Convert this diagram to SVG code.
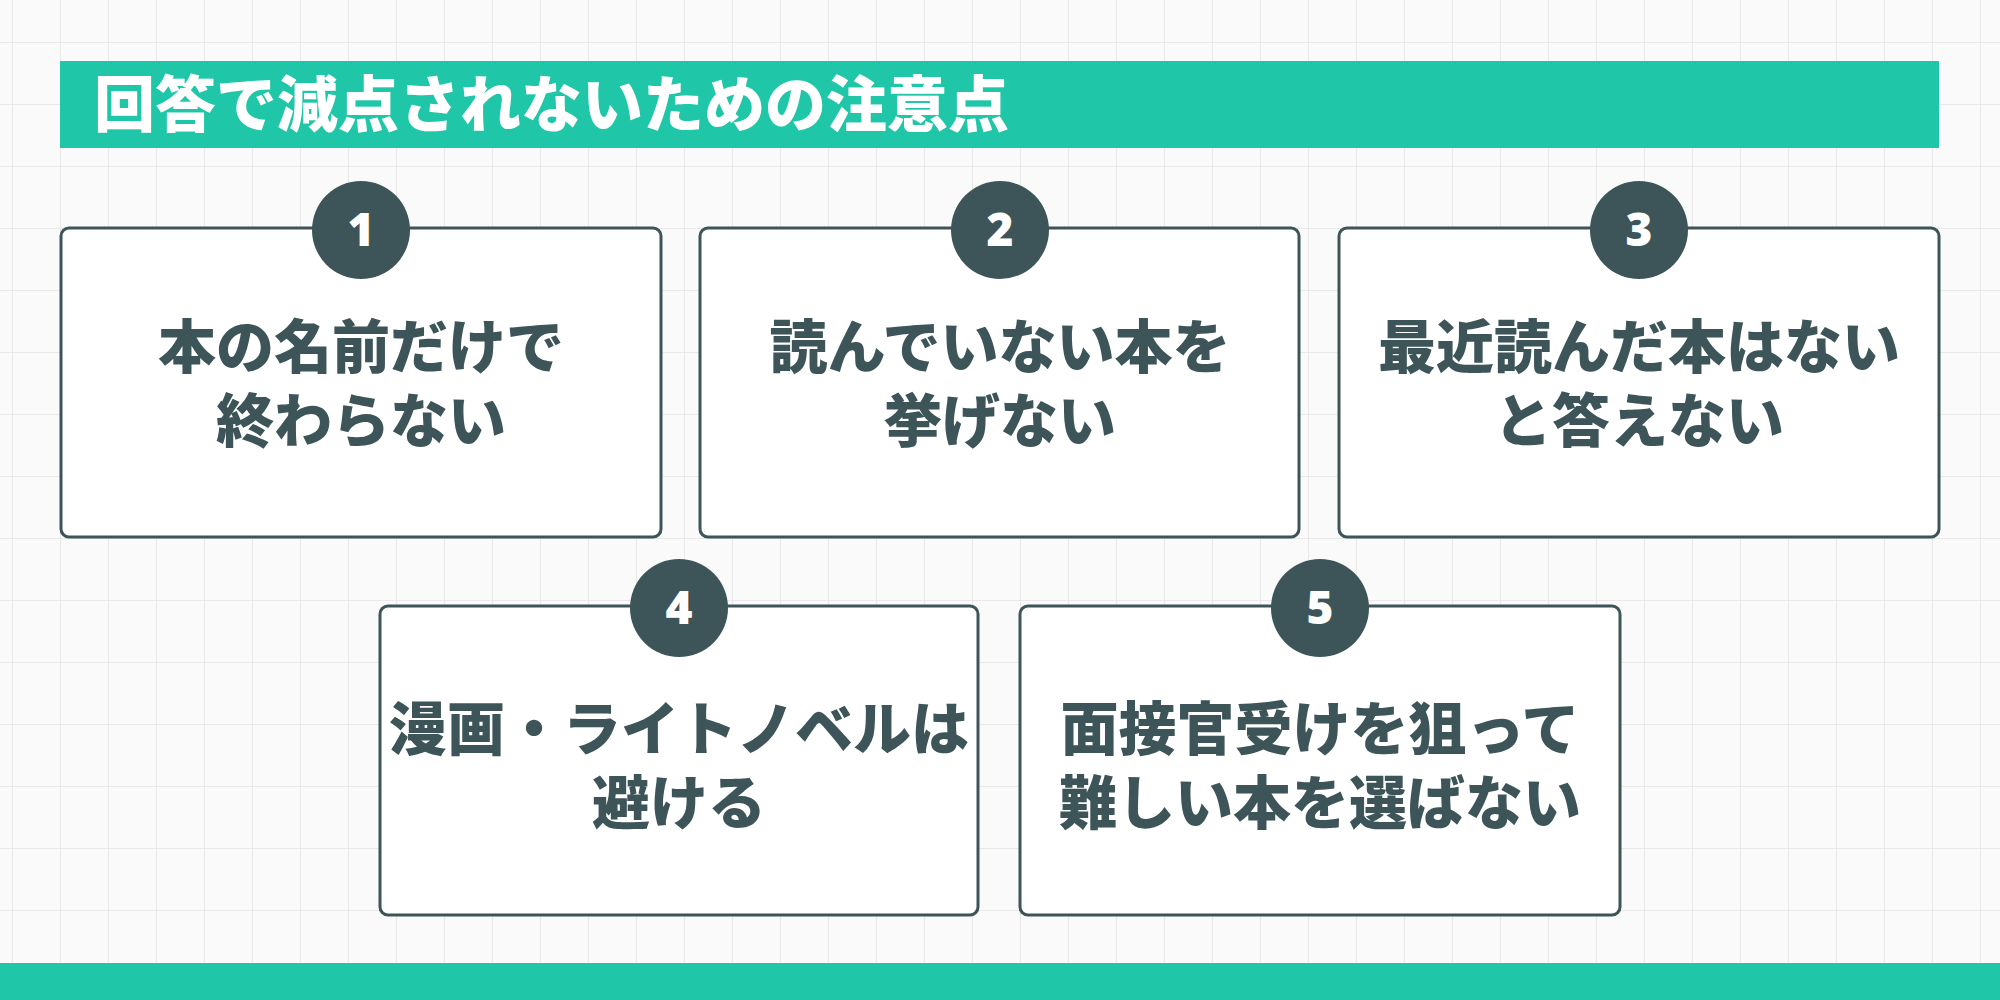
<svg xmlns="http://www.w3.org/2000/svg" width="2000" height="1000" viewBox="0 0 2000 1000">
<defs>
<pattern id="grid" x="12" y="42" width="48" height="62" patternUnits="userSpaceOnUse">
<path d="M0 0H48M0 0V62" fill="none" stroke="#e4e4e4" stroke-width="1.5"/>
</pattern>
<style>
.card{fill:#fff;stroke:#3d5558;stroke-width:3}
.num{fill:#3d5558}
.nt{fill:#fff;font-family:"Noto Sans","Noto Sans CJK JP",sans-serif;font-weight:900;font-size:46px;text-anchor:middle}
.ct{fill:#3d5558;font-family:"Noto Sans CJK JP",sans-serif;font-weight:900;font-size:58px;text-anchor:middle}
</style>
</defs>
<rect width="2000" height="1000" fill="#fafafa"/>
<rect width="2000" height="1000" fill="url(#grid)"/>
<g id="header">
<rect x="60" y="61" width="1879" height="87" fill="#1fc6a8"/>
<text x="94" y="127" fill="#fff" font-family="Noto Sans CJK JP,sans-serif" font-weight="900" font-size="61">回答で減点されないための注意点</text>
</g>
<g id="node1">
<rect class="card" x="61" y="228" width="600" height="309" rx="8"/>
<circle class="num" cx="361" cy="230" r="49"/><text class="nt" x="361" y="246">1</text>
<text class="ct" x="361" y="368">本の名前だけで</text><text class="ct" x="361" y="442">終わらない</text>
</g>
<g id="node2">
<rect class="card" x="700" y="228" width="599" height="309" rx="8"/>
<circle class="num" cx="1000" cy="230" r="49"/><text class="nt" x="1000" y="246">2</text>
<text class="ct" x="1000" y="368">読んでいない本を</text><text class="ct" x="1000" y="442">挙げない</text>
</g>
<g id="node3">
<rect class="card" x="1339" y="228" width="600" height="309" rx="8"/>
<circle class="num" cx="1639" cy="230" r="49"/><text class="nt" x="1639" y="246">3</text>
<text class="ct" x="1639" y="368">最近読んだ本はない</text><text class="ct" x="1639" y="442">と答えない</text>
</g>
<g id="node4">
<rect class="card" x="380" y="606" width="598" height="309" rx="8"/>
<circle class="num" cx="679" cy="608" r="49"/><text class="nt" x="679" y="624">4</text>
<text class="ct" x="679" y="750">漫画・ライトノベルは</text><text class="ct" x="679" y="824">避ける</text>
</g>
<g id="node5">
<rect class="card" x="1020" y="606" width="600" height="309" rx="8"/>
<circle class="num" cx="1320" cy="608" r="49"/><text class="nt" x="1320" y="624">5</text>
<text class="ct" x="1320" y="750">面接官受けを狙って</text><text class="ct" x="1320" y="824">難しい本を選ばない</text>
</g>
<g id="connectors"/>
<rect x="0" y="963" width="2000" height="37" fill="#1fc6a8"/>
</svg>
